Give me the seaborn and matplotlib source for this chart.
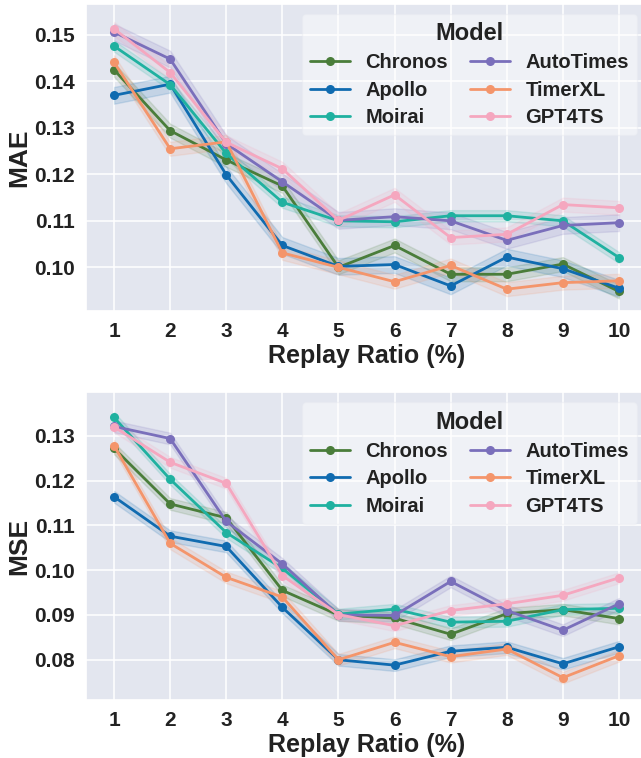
import numpy as np
import pandas as pd
import seaborn as sns
import matplotlib
matplotlib.use('Agg')
import matplotlib.pyplot as plt

sns.set_theme(style='darkgrid')
plt.rcParams['font.family'] = ['Liberation Sans', 'DejaVu Sans']
plt.rcParams['font.weight'] = 'bold'
plt.rcParams['axes.labelweight'] = 'bold'

models = ['Chronos', 'Apollo', 'Moirai', 'AutoTimes', 'TimerXL', 'GPT4TS']
colors = ['#4a7d3a', '#106bb0', '#1fb1a0', '#7a6fbb', '#f4956b', '#f5a7bf']
ratios = [1, 2, 3, 4, 5, 6, 7, 8, 9, 10]

# MAE per model
mae_chronos = [0.1425, 0.1294, 0.1231, 0.1175, 0.1000, 0.1047, 0.0985, 0.0985, 0.1007, 0.0948]
mae_apollo = [0.1370, 0.1394, 0.1199, 0.1047, 0.1002, 0.1006, 0.0960, 0.1022, 0.0997, 0.0955]
mae_moirai = [0.1476, 0.1393, 0.1245, 0.1140, 0.1100, 0.1098, 0.1111, 0.1111, 0.1100, 0.1021]
mae_autotimes = [0.1506, 0.1448, 0.1266, 0.1184, 0.1101, 0.1109, 0.1100, 0.1058, 0.1090, 0.1096]
mae_timerxl = [0.1441, 0.1255, 0.1270, 0.1031, 0.1000, 0.0969, 0.1004, 0.0953, 0.0967, 0.0971]
mae_gpt4ts = [0.1513, 0.1419, 0.1269, 0.1212, 0.1101, 0.1156, 0.1064, 0.1071, 0.1135, 0.1128]

# MSE per model
mse_chronos = [0.1272, 0.1148, 0.1117, 0.0955, 0.0900, 0.0893, 0.0857, 0.0903, 0.0912, 0.0892]
mse_apollo = [0.1164, 0.1076, 0.1053, 0.0917, 0.0800, 0.0788, 0.0819, 0.0828, 0.0791, 0.0829]
mse_moirai = [0.1341, 0.1203, 0.1084, 0.1004, 0.0902, 0.0913, 0.0884, 0.0886, 0.0912, 0.0915]
mse_autotimes = [0.1321, 0.1294, 0.1109, 0.1014, 0.0900, 0.0899, 0.0975, 0.0910, 0.0866, 0.0925]
mse_timerxl = [0.1278, 0.1060, 0.0984, 0.0940, 0.0800, 0.0839, 0.0807, 0.0824, 0.0760, 0.0809]
mse_gpt4ts = [0.1320, 0.1241, 0.1194, 0.0988, 0.0901, 0.0876, 0.0910, 0.0925, 0.0944, 0.0983]

# half width of the shaded band
mae_band = [0.0015, 0.0018, 0.0012, 0.0018, 0.0015, 0.0015]
mse_band = [0.0013, 0.0013, 0.0012, 0.0013, 0.0013, 0.0012]

mae = [mae_chronos, mae_apollo, mae_moirai, mae_autotimes, mae_timerxl, mae_gpt4ts]
mse = [mse_chronos, mse_apollo, mse_moirai, mse_autotimes, mse_timerxl, mse_gpt4ts]


def long_table(values, bands, name):
    rows = []
    for m, vals, hw in zip(models, values, bands):
        for r, v in zip(ratios, vals):
            for d in (-hw, 0, hw):
                rows.append({'Model': m, 'ratio': r, name: v + d})
    return pd.DataFrame(rows)


df_mae = long_table(mae, mae_band, 'MAE')
df_mse = long_table(mse, mse_band, 'MSE')

fig, axes = plt.subplots(2, 1, figsize=(6.41, 7.58), dpi=100)
# the right edge of the axes runs slightly past the picture, as in the original crop
fig.subplots_adjust(left=0.1342, right=1.0094, top=0.995, bottom=0.077, hspace=0.265)

panels = [(axes[0], df_mae, 'MAE', (0.0906, 0.1567)),
          (axes[1], df_mse, 'MSE', (0.0711, 0.1397))]

for ax, df, name, ylim in panels:
    ax.set_facecolor('#e3e6ef')
    sns.lineplot(data=df, x='ratio', y=name, hue='Model', palette=colors,
                 marker='o', markersize=6.5, markeredgewidth=0, linewidth=2,
                 errorbar=('pi', 100), err_kws={'alpha': 0.15}, ax=ax)
    ax.set_xlim(0.5, 10.5)
    ax.set_ylim(*ylim)
    ax.set_xticks(ratios)
    ax.tick_params(labelsize=15, pad=2, labelcolor='#222222')
    for lab in ax.get_xticklabels() + ax.get_yticklabels():
        lab.set_fontweight('bold')
    ax.set_xlabel('Replay Ratio (%)', fontsize=18, fontweight='bold', labelpad=2, color='#222222')
    ax.set_ylabel(name, fontsize=19, fontweight='bold', labelpad=2, color='#222222')
    ax.yaxis.set_major_formatter(matplotlib.ticker.FormatStrFormatter('%.2f'))
    ax.grid(color='white', linewidth=1.1)
    h, l = ax.get_legend_handles_labels()
    leg = ax.legend(h, l, title='Model', ncol=2, loc='upper right',
                    prop={'weight': 'bold', 'size': 14.5},
                    title_fontproperties={'weight': 'bold', 'size': 17},
                    facecolor='white', framealpha=0.45, edgecolor='#e8eaf0',
                    borderaxespad=0.5, columnspacing=1.1, handletextpad=0.75,
                    labelspacing=0.42)
    for t in leg.get_texts():
        t.set_color('#222222')
    leg.get_title().set_color('#222222')

plt.savefig('out.png', dpi=100)
